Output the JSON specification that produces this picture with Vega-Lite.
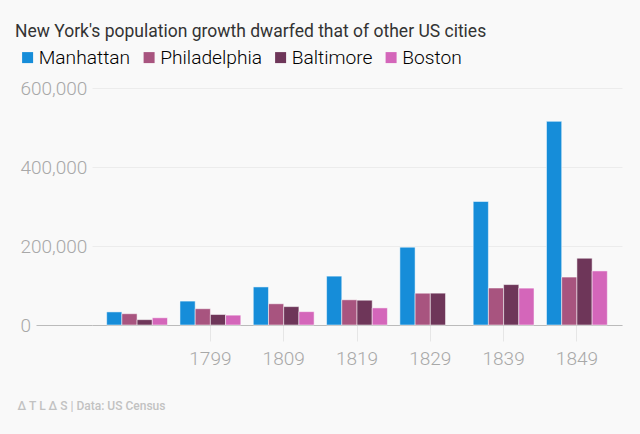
{
  "$schema": "https://vega.github.io/schema/vega-lite/v6.json",
  "width": 530,
  "height": 237,
  "autosize": {"type": "none"},
  "padding": {"left": 92, "top": 88, "right": 18, "bottom": 109},
  "background": "#f9f9f9",
  "title": {
    "text": "New York's population growth dwarfed that of other US cities",
    "anchor": "start",
    "frame": "bounds",
    "font": "Roboto",
    "fontSize": 17.5,
    "fontWeight": "normal",
    "color": "#333333",
    "offset": 8,
    "dx": -2
  },
  "data": {
    "values": [
      {"year": "1789", "city": "Manhattan", "population": 33131},
      {"year": "1789", "city": "Philadelphia", "population": 28522},
      {"year": "1789", "city": "Baltimore", "population": 13503},
      {"year": "1789", "city": "Boston", "population": 18320},
      {"year": "1799", "city": "Manhattan", "population": 60515},
      {"year": "1799", "city": "Philadelphia", "population": 41220},
      {"year": "1799", "city": "Baltimore", "population": 26514},
      {"year": "1799", "city": "Boston", "population": 24937},
      {"year": "1809", "city": "Manhattan", "population": 96373},
      {"year": "1809", "city": "Philadelphia", "population": 53722},
      {"year": "1809", "city": "Baltimore", "population": 46555},
      {"year": "1809", "city": "Boston", "population": 33787},
      {"year": "1819", "city": "Manhattan", "population": 123706},
      {"year": "1819", "city": "Philadelphia", "population": 63802},
      {"year": "1819", "city": "Baltimore", "population": 62738},
      {"year": "1819", "city": "Boston", "population": 43298},
      {"year": "1829", "city": "Manhattan", "population": 197112},
      {"year": "1829", "city": "Philadelphia", "population": 80462},
      {"year": "1829", "city": "Baltimore", "population": 80620},
      {"year": "1839", "city": "Manhattan", "population": 312710},
      {"year": "1839", "city": "Philadelphia", "population": 93665},
      {"year": "1839", "city": "Baltimore", "population": 102313},
      {"year": "1839", "city": "Boston", "population": 93383},
      {"year": "1849", "city": "Manhattan", "population": 515547},
      {"year": "1849", "city": "Philadelphia", "population": 121376},
      {"year": "1849", "city": "Baltimore", "population": 169054},
      {"year": "1849", "city": "Boston", "population": 136881}
    ]
  },
  "mark": {"type": "bar", "stroke": "#ffffff", "strokeOpacity": 0.5, "strokeWidth": 1},
  "encoding": {
    "x": {
      "field": "year",
      "type": "ordinal",
      "sort": ["1789", "1799", "1809", "1819", "1829", "1839", "1849"],
      "scale": {"type": "band", "paddingInner": 0.17, "paddingOuter": 0.2},
      "axis": {
        "values": ["1799", "1809", "1819", "1829", "1839", "1849"],
        "labelAngle": 0,
        "labelFont": "Roboto",
        "labelFontWeight": 300,
        "labelFontSize": 19,
        "labelColor": "#a8a8a8",
        "labelPadding": 8,
        "tickSize": 16,
        "tickColor": "#e6e6e6",
        "domainColor": "#bbbbbb",
        "domainWidth": 1,
        "grid": false,
        "title": "Δ  T  L  Δ  S  |  Data:  US Census",
        "titleFont": "Roboto",
        "titleFontSize": 12,
        "titleFontWeight": 500,
        "titleColor": "#c2c2c2",
        "titleAnchor": "start",
        "titleAlign": "left",
        "titleBaseline": "alphabetic",
        "titleX": -75,
        "titleY": 84
      }
    },
    "xOffset": {
      "field": "city",
      "type": "nominal",
      "sort": ["Manhattan", "Philadelphia", "Baltimore", "Boston"],
      "scale": {"paddingInner": 0, "paddingOuter": 0}
    },
    "y": {
      "field": "population",
      "type": "quantitative",
      "scale": {"domain": [0, 600000], "nice": false},
      "axis": {
        "values": [0, 200000, 400000, 600000],
        "format": ",d",
        "title": null,
        "domain": false,
        "grid": true,
        "gridColor": "#ececec",
        "labelFont": "Roboto",
        "labelFontWeight": 300,
        "labelFontSize": 19,
        "labelColor": "#a8a8a8",
        "labelAlign": "left",
        "labelPadding": 16,
        "tickSize": 56,
        "tickColor": {"condition": {"test": "datum.value === 0", "value": "#bbbbbb"}, "value": "transparent"}
      }
    },
    "color": {
      "field": "city",
      "type": "nominal",
      "sort": ["Manhattan", "Philadelphia", "Baltimore", "Boston"],
      "scale": {
        "domain": ["Manhattan", "Philadelphia", "Baltimore", "Boston"],
        "range": ["#168dd9", "#a8547f", "#6e3659", "#d466ba"]
      },
      "legend": {
        "orient": "none",
        "legendX": -74,
        "legendY": -40,
        "direction": "horizontal",
        "columns": 4,
        "gridAlign": "none",
        "title": null,
        "symbolType": "square",
        "symbolSize": 121,
        "symbolStrokeWidth": 0,
        "symbolOpacity": 1,
        "labelFont": "Roboto",
        "labelFontWeight": 300,
        "labelFontSize": 19.2,
        "labelOffset": 1.5,
        "columnPadding": 8.5,
        "labelLimit": 300,
        "encode": {
          "labels": {"update": {"fill": {"scale": "color", "field": "value"}}}
        }
      }
    }
  },
  "config": {
    "view": {"stroke": null}
  }
}
